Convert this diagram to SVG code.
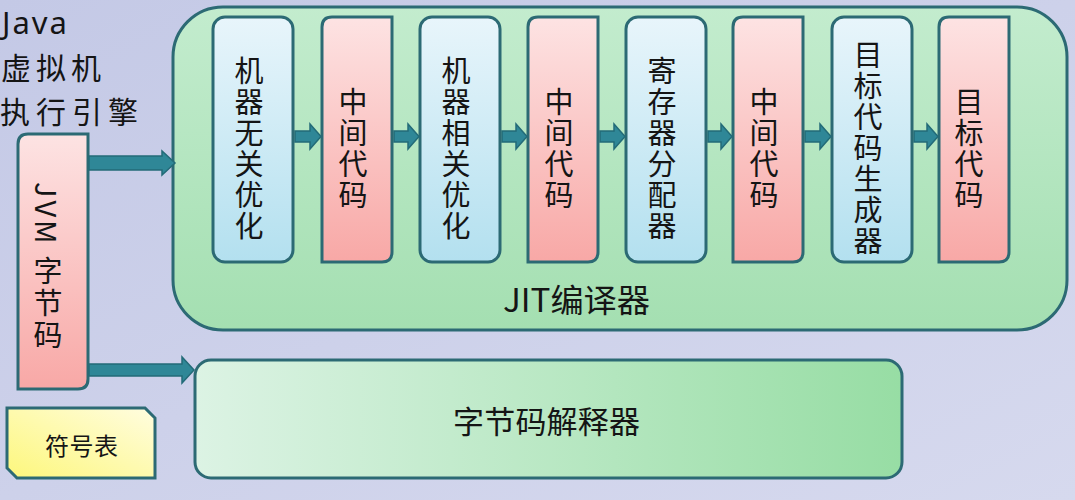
<svg xmlns="http://www.w3.org/2000/svg" width="1075" height="500" viewBox="0 0 1075 500">
<defs>
<linearGradient id="bg" x1="0" y1="0" x2="1" y2="1">
<stop offset="0" stop-color="#c4c9e6"/>
<stop offset="1" stop-color="#d6d9ee"/>
</linearGradient>
<linearGradient id="jit" x1="0" y1="0" x2="0" y2="1">
<stop offset="0" stop-color="#c3ecce"/>
<stop offset="1" stop-color="#a4dfb1"/>
</linearGradient>
<linearGradient id="interp" x1="0" y1="0" x2="1" y2="0">
<stop offset="0" stop-color="#dcf3e4"/>
<stop offset="1" stop-color="#97dda4"/>
</linearGradient>
<linearGradient id="blue" x1="0" y1="0" x2="0" y2="1">
<stop offset="0" stop-color="#e8f5fb"/>
<stop offset="1" stop-color="#b3e0ef"/>
</linearGradient>
<linearGradient id="red" x1="0" y1="0" x2="0" y2="1">
<stop offset="0" stop-color="#fde3e3"/>
<stop offset="1" stop-color="#f8a8a6"/>
</linearGradient>
<linearGradient id="yellow" x1="1" y1="0" x2="0" y2="1">
<stop offset="0" stop-color="#fffde0"/>
<stop offset="1" stop-color="#fdf77c"/>
</linearGradient>
</defs>
<style>
.box{stroke:#2c6a74;stroke-width:3}
.arrow{fill:#2f8797;stroke:#236b78;stroke-width:1.5}
.t{font-family:"Noto Sans CJK SC","Noto Sans",sans-serif;fill:#151515}
.v{font-size:29px;text-anchor:middle;writing-mode:vertical-rl;letter-spacing:2px}
</style>
<rect width="1075" height="500" fill="url(#bg)"/>

<g id="title">
<text x="2" y="34" font-size="31" letter-spacing="2" fill="#151515" font-family="'Noto Sans', sans-serif">Java</text>
<text class="t" x="1" y="79" font-size="30" letter-spacing="5">虚拟机</text>
<text class="t" x="0" y="123" font-size="30" letter-spacing="6">执行引擎</text>
</g>

<g id="jit-compiler">
<rect class="box" x="173" y="7" width="894" height="323" rx="50" fill="url(#jit)"/>
<text class="t" x="503" y="312" font-size="32" textLength="147" lengthAdjust="spacingAndGlyphs">JIT编译器</text>
</g>

<g id="interpreter">
<rect class="box" x="195" y="360" width="707" height="118" rx="16" fill="url(#interp)"/>
<text class="t" x="453" y="433" font-size="31" textLength="187">字节码解释器</text>
</g>

<g id="jvm-bytecode">
<path class="box" d="M28,134 H88 V379 Q88,389 78,389 H18 V144 Q18,134 28,134 Z" fill="url(#red)"/>
<text class="t v" x="48" y="267" style="letter-spacing:3px">JVM 字节码</text>
</g>

<g id="symbol-table">
<path class="box" d="M7,408 H145 L155,418 V478 H17 L7,468 Z" fill="url(#yellow)"/>
<text class="t" x="45" y="455" font-size="24" fill="#2a2a2a" textLength="73">符号表</text>
</g>

<g id="n1">
<rect class="box" x="213" y="17" width="80" height="245" rx="12" fill="url(#blue)"/>
<text class="t v" x="249" y="149">机器无关优化</text>
</g>
<g id="n2">
<path class="box" d="M332,17 H392 V252 Q392,262 382,262 H322 V27 Q322,17 332,17 Z" fill="url(#red)"/>
<text class="t v" x="353" y="149">中间代码</text>
</g>
<g id="n3">
<rect class="box" x="420" y="17" width="80" height="245" rx="12" fill="url(#blue)"/>
<text class="t v" x="456" y="149">机器相关优化</text>
</g>
<g id="n4">
<path class="box" d="M538,17 H598 V252 Q598,262 588,262 H528 V27 Q528,17 538,17 Z" fill="url(#red)"/>
<text class="t v" x="559" y="149">中间代码</text>
</g>
<g id="n5">
<rect class="box" x="626" y="17" width="80" height="245" rx="12" fill="url(#blue)"/>
<text class="t v" x="662" y="149">寄存器分配器</text>
</g>
<g id="n6">
<path class="box" d="M743,17 H803 V252 Q803,262 793,262 H733 V27 Q733,17 743,17 Z" fill="url(#red)"/>
<text class="t v" x="764" y="149">中间代码</text>
</g>
<g id="n7">
<rect class="box" x="832" y="17" width="80" height="245" rx="12" fill="url(#blue)"/>
<text class="t v" x="868" y="149">目标代码生成器</text>
</g>
<g id="n8">
<path class="box" d="M949,17 H1009 V252 Q1009,262 999,262 H939 V27 Q939,17 949,17 Z" fill="url(#red)"/>
<text class="t v" x="969" y="149">目标代码</text>
</g>

<g id="connectors">
<path class="arrow" d="M89,156 H162 V151 L175,163 L162,175 V170 H89 Z"/>
<path class="arrow" d="M89,364 H182 V357 L194,370 L182,383 V376 H89 Z"/>
<path class="arrow" d="M295,131 H310 V124 L321,136.5 L310,149 V142 H295 Z"/>
<path class="arrow" d="M394,131 H408 V124 L419,136.5 L408,149 V142 H394 Z"/>
<path class="arrow" d="M502,131 H516 V124 L527,136.5 L516,149 V142 H502 Z"/>
<path class="arrow" d="M600,131 H614 V124 L625,136.5 L614,149 V142 H600 Z"/>
<path class="arrow" d="M708,131 H721 V124 L732,136.5 L721,149 V142 H708 Z"/>
<path class="arrow" d="M805,131 H820 V124 L831,136.5 L820,149 V142 H805 Z"/>
<path class="arrow" d="M914,131 H927 V124 L938,136.5 L927,149 V142 H914 Z"/>
</g>
</svg>
